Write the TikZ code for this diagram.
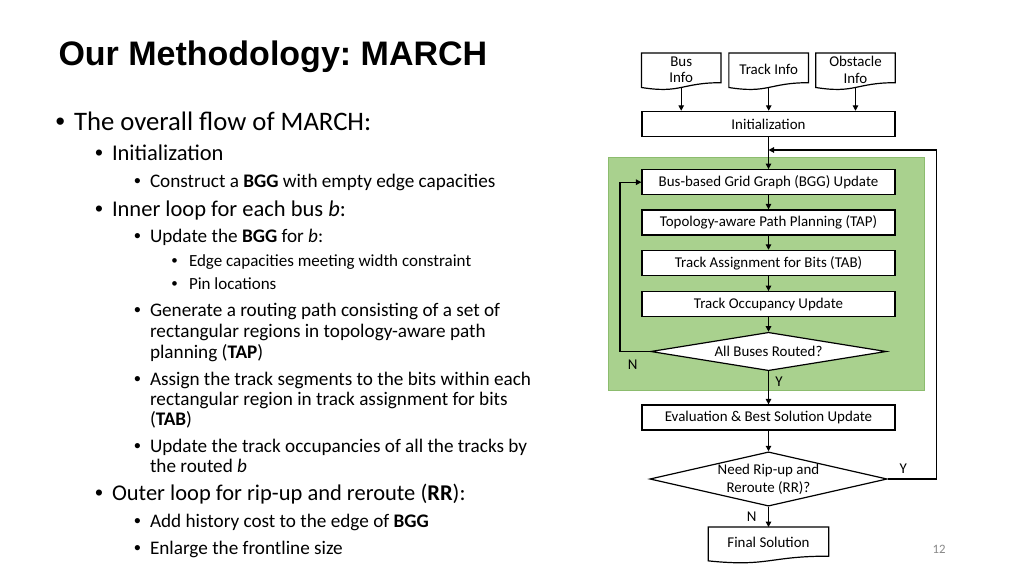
\documentclass[tikz,border=0pt]{standalone}
\usepackage{fontspec}
\setmainfont{Carlito}
\newfontfamily\titlefont{Liberation Sans}
\usetikzlibrary{arrows.meta,shapes.geometric,calc}
\definecolor{loopgreen}{RGB}{169,209,142}
\definecolor{loopedge}{RGB}{140,188,110}
\definecolor{pagegray}{RGB}{137,137,137}
\newcommand\docoutline[2]{%
  \draw[line width=1.2bp,fill=white] (#1.south east) -- (#1.north east) -- (#1.north west)
    -- ($(#1.south west)+(0,{0.132*#2})$)
    .. controls ($(#1.south)+(0,{0.305*#2})$) and (#1.south) .. (#1.south east) -- cycle;}
\frenchspacing
\begin{document}
\begin{tikzpicture}[x=1bp,y=-1bp,
  txt/.style={anchor=base west,inner sep=0,outer sep=0},
  lone/.style={txt,font=\fontsize{26.7bp}{30bp}\selectfont},
  ltwo/.style={txt,font=\fontsize{22.5bp}{25bp}\selectfont},
  lthree/.style={txt,font=\fontsize{19.2bp}{22bp}\selectfont},
  lfour/.style={txt,font=\fontsize{17bp}{20bp}\selectfont},
  bul/.style={txt,font=\titlefont},
  boxfont/.style={font=\fontsize{14.93bp}{16.7bp}\selectfont},
  stepbox/.style={draw,line width=1.2bp,fill=white,minimum width=253bp,minimum height=25bp,inner sep=0,boxfont},
  docbox/.style={draw=none,minimum height=29.2bp,inner sep=0},
  doctext/.style={inner sep=0,align=center,boxfont},
  decision/.style={diamond,draw,line width=1.2bp,fill=white,inner sep=0,aspect=4.4,align=center,font=\fontsize{14.93bp}{18.3bp}\selectfont},
  arr/.style={line width=1.2bp,-{Triangle[length=5.5bp,width=5.5bp]}},
  lbl/.style={inner sep=0,boxfont},
]
\useasboundingbox[fill=white] (0,0) rectangle (1024,575);

% ---------- title ----------
\node[txt,font=\titlefont\bfseries\fontsize{34bp}{40bp}\selectfont] (title) at (58.5,66) {Our Methodology: MARCH};

% ---------- bullet text ----------
\node[bul,font=\titlefont\fontsize{26.7bp}{30bp}\selectfont] (b1) at (55.5,131) {•};
\node[lone] (t1) at (74,131) {The overall flow of MARCH:};
\node[bul,font=\titlefont\fontsize{22.5bp}{25bp}\selectfont] (b2) at (95,161) {•};
\node[ltwo] (t2) at (112,161) {Initialization};
\node[bul,font=\titlefont\fontsize{19.2bp}{22bp}\selectfont] (b3) at (134,188) {•};
\node[lthree] (t3) at (150,188) {Construct a \textbf{BGG} with empty edge capacities};
\node[bul,font=\titlefont\fontsize{22.5bp}{25bp}\selectfont] (b4) at (95,217) {•};
\node[ltwo] (t4) at (112,217) {Inner loop for each bus \textit{b}:};
\node[bul,font=\titlefont\fontsize{19.2bp}{22bp}\selectfont] (b5) at (134,242.7) {•};
\node[lthree] (t5) at (150,242.7) {Update the \textbf{BGG} for \textit{b}:};
\node[bul,font=\titlefont\fontsize{17bp}{20bp}\selectfont] (b6) at (171.5,267) {•};
\node[lfour] (t6) at (189,267) {Edge capacities meeting width constraint};
\node[bul,font=\titlefont\fontsize{17bp}{20bp}\selectfont] (b7) at (171.5,290) {•};
\node[lfour] (t7) at (189,290) {Pin locations};
\node[bul,font=\titlefont\fontsize{19.2bp}{22bp}\selectfont] (b8) at (134,316.7) {•};
\node[lthree] (t8a) at (150,316.7) {Generate a routing path consisting of a set of};
\node[lthree] (t8b) at (150,337.7) {rectangular regions in topology-aware path};
\node[lthree] (t8c) at (150,358.3) {planning (\textbf{TAP})};
\node[bul,font=\titlefont\fontsize{19.2bp}{22bp}\selectfont] (b9) at (134,385) {•};
\node[lthree] (t9a) at (150,385) {Assign the track segments to the bits within each};
\node[lthree] (t9b) at (150,405) {rectangular region in track assignment for bits};
\node[lthree] (t9c) at (150,425.7) {(\textbf{TAB})};
\node[bul,font=\titlefont\fontsize{19.2bp}{22bp}\selectfont] (b10) at (134,452.3) {•};
\node[lthree] (t10a) at (150,452.3) {Update the track occupancies of all the tracks by};
\node[lthree] (t10b) at (150,472.3) {the routed \textit{b}};
\node[bul,font=\titlefont\fontsize{22.5bp}{25bp}\selectfont] (b11) at (95,500.7) {•};
\node[ltwo] (t11) at (112,500.7) {Outer loop for rip-up and reroute (\textbf{RR}):};
\node[bul,font=\titlefont\fontsize{19.2bp}{22bp}\selectfont] (b12) at (134,527.7) {•};
\node[lthree] (t12) at (150,527.7) {Add history cost to the edge of \textbf{BGG}};
\node[bul,font=\titlefont\fontsize{19.2bp}{22bp}\selectfont] (b13) at (134,554.3) {•};
\node[lthree] (t13) at (150,554.3) {Enlarge the frontline size};

% ---------- flowchart ----------
\node[draw=loopedge,line width=1bp,fill=loopgreen,minimum width=316bp,minimum height=232.7bp,inner sep=0] (loopbg) at (766.3,273.65) {};

\node[docbox,minimum width=79bp] (bus) at (681.2,67.9) {};
\node[docbox,minimum width=79.3bp] (track) at (768.7,67.9) {};
\node[docbox,minimum width=79bp] (obs) at (855.5,67.9) {};
\docoutline{bus}{36.4}
\docoutline{track}{36.4}
\docoutline{obs}{36.4}
\node[doctext] (busT) at ($(bus.center)+(0,2)$) {Bus\\Info};
\node[doctext] (trackT) at ($(track.center)+(0,1.6)$) {Track Info};
\node[doctext] (obsT) at ($(obs.center)+(0,2)$) {Obstacle\\Info};

\node[stepbox] (init) at (768.5,123.9) {Initialization};
\node[stepbox] (bgg) at (768.5,182.2) {Bus-based Grid Graph (BGG) Update};
\node[stepbox] (tap) at (768.5,222.5) {Topology-aware Path Planning (TAP)};
\node[stepbox] (tab) at (768.5,262.9) {Track Assignment for Bits (TAB)};
\node[stepbox] (tou) at (768.5,304.2) {Track Occupancy Update};
\node[decision,aspect=6,minimum width=235.6bp,minimum height=38.4bp] (d1) at (768.5,351.5) {All Buses Routed?};
\node[stepbox] (eval) at (768.5,417.5) {Evaluation \& Best Solution Update};
\node[decision,minimum width=237.3bp,minimum height=54.3bp] (d2) at (768.5,479) {Need Rip-up and\\Reroute (RR)?};
\node[docbox,minimum width=120bp,minimum height=28.7bp] (final) at (768.5,541.6) {};
\docoutline{final}{35.8}
\node[doctext] (finalT) at ($(final.center)+(0,0.6)$) {Final Solution};

\coordinate (lx) at (620,0);
\coordinate (rx) at (936.7,0);
\coordinate (ry) at (0,150);

\draw[arr] ($(bus.south)+(0,4.8)$) -- (bus.south |- init.north);
\draw[arr] ($(track.south)+(0,4.8)$) -- (track.south |- init.north);
\draw[arr] ($(obs.south)+(0,4.8)$) -- (obs.south |- init.north);
\draw[arr] (init) -- (bgg);
\draw[arr] (bgg) -- (tap);
\draw[arr] (tap) -- (tab);
\draw[arr] (tab) -- (tou);
\draw[arr] (tou) -- (d1);
\draw[arr] (d1.south) -- (eval.north);
\draw[arr] (eval) -- (d2);
\draw[arr] (d2.south) -- (final.north);
\draw[arr] (d1.west) -- (d1.west -| lx) |- (bgg.west);
\draw[arr] (d2.east) -- (d2.east -| rx) |- (init.south |- ry);

\node[lbl] (nlab1) at (632.7,365) {N};
\node[lbl] (ylab1) at (779,381.7) {Y};
\node[lbl] (ylab2) at (903.3,468.3) {Y};
\node[lbl] (nlab2) at (751.7,516.7) {N};

\node[lbl,font=\fontsize{12.8bp}{15bp}\selectfont,text=pagegray] (pagenum) at (939,549.3) {12};
\end{tikzpicture}
\end{document}
